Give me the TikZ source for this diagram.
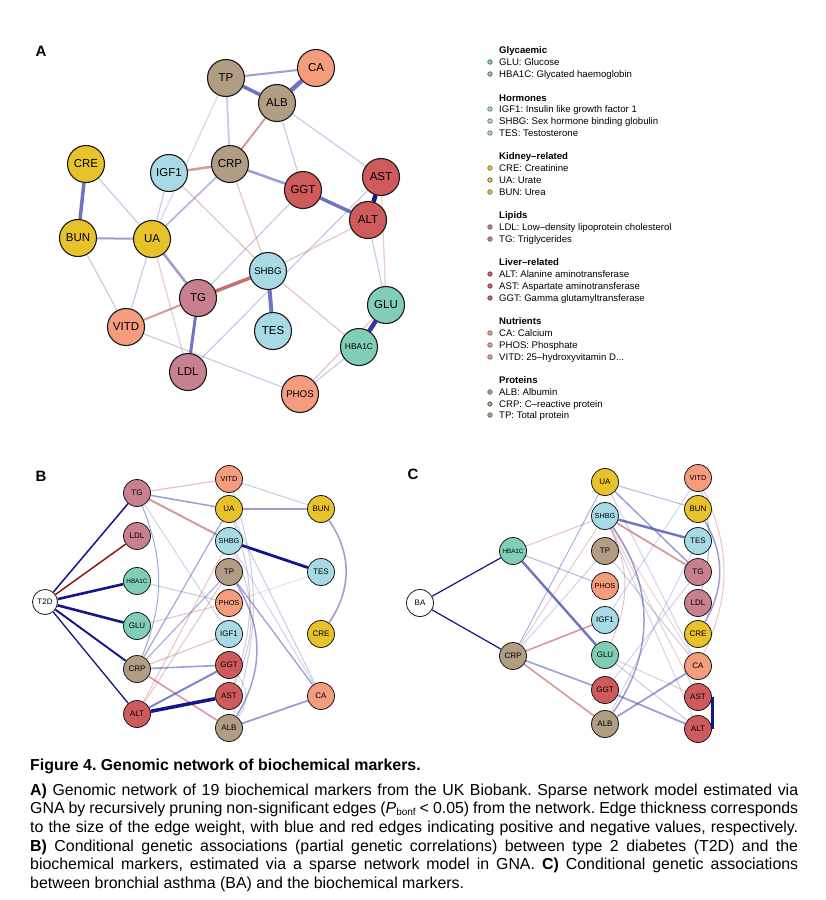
\documentclass[tikz,border=0pt]{standalone}
\usepackage{fontspec}
\setmainfont{Liberation Sans}
\frenchspacing
\definecolor{cKid}{RGB}{232,194,42}
\definecolor{cHor}{RGB}{168,218,230}
\definecolor{cPro}{RGB}{177,156,132}
\definecolor{cLiv}{RGB}{207,90,92}
\definecolor{cNut}{RGB}{245,155,126}
\definecolor{cLip}{RGB}{201,128,142}
\definecolor{cGly}{RGB}{128,205,184}
\definecolor{pos}{RGB}{75,80,180}
\definecolor{neg}{RGB}{190,85,90}
\definecolor{navy}{RGB}{20,20,140}
\definecolor{dred}{RGB}{150,20,20}
\pgfdeclarelayer{bg}
\pgfsetlayers{bg,main}
\tikzset{
  nA/.style={circle, draw=black!90, line width=1.1pt, minimum size=37pt, inner sep=0pt, font=\fontsize{11.5}{12}\selectfont},
  nB/.style={circle, draw=black!90, line width=0.8pt, minimum size=27pt, inner sep=0pt, font=\fontsize{8}{9}\selectfont},
  smA/.style={font=\fontsize{9.7}{10}\selectfont},
  tnA/.style={font=\fontsize{8.4}{9}\selectfont},
  smB/.style={font=\fontsize{7.3}{8}\selectfont},
  tnB/.style={font=\fontsize{6.3}{7}\selectfont},
  p1/.style={draw=pos, opacity=.3, line width=1.2pt},
  p2/.style={draw=pos, opacity=.55, line width=2pt},
  p3/.style={draw=pos, opacity=.8, line width=3.5pt},
  n1/.style={draw=neg, opacity=.35, line width=1.2pt},
  n2/.style={draw=neg, opacity=.6, line width=2pt},
  n3/.style={draw=neg, opacity=.85, line width=3.5pt},
  nv/.style={draw=navy, line width=#1},
  dr/.style={draw=dred, line width=#1},
  lgdot/.style={circle, draw=black!70, line width=0.5pt, minimum size=4.6pt, inner sep=0pt},
  lgtxt/.style={anchor=base west, inner sep=0pt, font=\fontsize{9.6}{11}\selectfont},
  lghead/.style={anchor=base west, inner sep=0pt, font=\fontsize{9.6}{11}\selectfont\bfseries},
  plab/.style={anchor=center, inner sep=0pt, font=\fontsize{15}{16}\selectfont\bfseries},
  capl/.style={anchor=base west, inner sep=0pt, font=\fontsize{15.9}{18.6}\selectfont}
}
\begin{document}
\begin{tikzpicture}[x=1pt,y=-1pt]
\useasboundingbox (0,0) rectangle (826,900);
\begin{pgfonlayer}{bg}
\fill[white] (0,0) rectangle (826,900);
\end{pgfonlayer}

% ---------------- Panel A ----------------
\node[plab] (labA) at (41,51) {A};
\node[nA, fill=cPro] (aTP) at (226,78) {TP};
\node[nA, fill=cNut] (aCA) at (316,68) {CA};
\node[nA, fill=cPro] (aALB) at (277,103) {ALB};
\node[nA, fill=cKid] (aCRE) at (86,164) {CRE};
\node[nA, fill=cHor] (aIGF1) at (169,173) {IGF1};
\node[nA, fill=cPro] (aCRP) at (230,164) {CRP};
\node[nA, fill=cLiv] (aGGT) at (303,190) {GGT};
\node[nA, fill=cLiv] (aAST) at (381,177) {AST};
\node[nA, fill=cLiv] (aALT) at (368,220) {ALT};
\node[nA, fill=cKid] (aBUN) at (78,238) {BUN};
\node[nA, fill=cKid] (aUA) at (152,239) {UA};
\node[nA, fill=cHor, smA] (aSHBG) at (268,271) {SHBG};
\node[nA, fill=cLip] (aTG) at (198,298) {TG};
\node[nA, fill=cNut] (aVITD) at (126,327) {VITD};
\node[nA, fill=cHor] (aTES) at (273,331) {TES};
\node[nA, fill=cGly] (aGLU) at (386,305) {GLU};
\node[nA, fill=cGly, tnA] (aHBA1C) at (359,347) {HBA1C};
\node[nA, fill=cLip] (aLDL) at (188,372) {LDL};
\node[nA, fill=cNut, smA] (aPHOS) at (300,394) {PHOS};

\begin{pgfonlayer}{bg}
\draw[p2] (aTP) -- (aCA);
\draw[p3] (aTP) -- (aALB);
\draw[p3, line width=4.5pt] (aALB) -- (aCA);
\draw[p1, line width=1.8pt] (aTP) -- (aCRP);
\draw[p1, opacity=.22] (aTP) -- (aUA);
\draw[n2] (aALB) -- (aCRP);
\draw[p1] (aALB) -- (aGGT);
\draw[p1] (aALB) -- (aAST);
\draw[n2, line width=2.5pt] (aIGF1) -- (aCRP);
\draw[p2, line width=2.5pt] (aCRP) -- (aGGT);
\draw[p1, opacity=.4, line width=1.8pt] (aCRP) -- (aUA);
\draw[n1] (aCRP) -- (aSHBG);
\draw[n1] (aIGF1) -- (aSHBG);
\draw[p1] (aIGF1) -- (aUA);
\draw[p3] (aCRE) -- (aBUN);
\draw[p1] (aCRE) -- (aUA);
\draw[p2] (aBUN) -- (aUA);
\draw[p1] (aBUN) -- (aVITD);
\draw[p1] (aUA) -- (aVITD);
\draw[p2, line width=2.6pt] (aUA) -- (aTG);
\draw[n1, opacity=.3] (aUA) -- (aLDL);
\draw[n2] (aTG) -- (aVITD);
\draw[p3, line width=3pt] (aTG) -- (aLDL);
\draw[n3] (aTG) -- (aSHBG);
\draw[p1] (aTG) -- (aGGT);
\draw[p1] (aLDL) -- (aAST);
\draw[p3, line width=4pt] (aSHBG) -- (aTES);
\draw[n1] (aSHBG) -- (aHBA1C);
\draw[n1] (aSHBG) -- (aALT);
\draw[nv=4.5pt] (aAST) -- (aALT);
\draw[p3] (aGGT) -- (aALT);
\draw[p1] (aALT) -- (aGLU);
\draw[n1, opacity=.3] (aAST) -- (aGLU);
\draw[draw=navy!80!pos, opacity=.9, line width=4.5pt] (aGLU) -- (aHBA1C);
\draw[n1] (aGLU) -- (aPHOS);
\draw[p1] (aHBA1C) -- (aPHOS);
\draw[p1] (aVITD) -- (aPHOS);
\end{pgfonlayer}

% ---------------- Legend ----------------
\node[lghead] (hG) at (499,53.5) {Glycaemic};
\node[lgdot, fill=cGly] (dGLU) at (490,62) {};
\node[lgtxt] (tGLU) at (499,65.5) {GLU: Glucose};
\node[lgdot, fill=cGly] (dHBA) at (490,74) {};
\node[lgtxt] (tHBA) at (499,77.5) {HBA1C: Glycated haemoglobin};

\node[lghead] (hH) at (499,101) {Hormones};
\node[lgdot, fill=cHor] (dIGF) at (490,109) {};
\node[lgtxt] (tIGF) at (499,112.5) {IGF1: Insulin like growth factor 1};
\node[lgdot, fill=cHor] (dSHBG) at (490,121) {};
\node[lgtxt] (tSHBG) at (499,124.5) {SHBG: Sex hormone binding globulin};
\node[lgdot, fill=cHor] (dTES) at (490,133) {};
\node[lgtxt] (tTES) at (499,136.5) {TES: Testosterone};

\node[lghead] (hK) at (499,159) {Kidney–related};
\node[lgdot, fill=cKid] (dCRE) at (490,168) {};
\node[lgtxt] (tCRE) at (499,171.5) {CRE: Creatinine};
\node[lgdot, fill=cKid] (dUA) at (490,180) {};
\node[lgtxt] (tUA) at (499,183.5) {UA: Urate};
\node[lgdot, fill=cKid] (dBUN) at (490,192) {};
\node[lgtxt] (tBUN) at (499,195.5) {BUN: Urea};

\node[lghead] (hL) at (499,218.5) {Lipids};
\node[lgdot, fill=cLip] (dLDL) at (490,227) {};
\node[lgtxt] (tLDL) at (499,230.5) {LDL: Low–density lipoprotein cholesterol};
\node[lgdot, fill=cLip] (dTG) at (490,239) {};
\node[lgtxt] (tTG) at (499,242.5) {TG: Triglycerides};

\node[lghead] (hLv) at (499,265.5) {Liver–related};
\node[lgdot, fill=cLiv] (dALT) at (490,274) {};
\node[lgtxt] (tALT) at (499,277.5) {ALT: Alanine aminotransferase};
\node[lgdot, fill=cLiv] (dAST) at (490,286) {};
\node[lgtxt] (tAST) at (499,289.5) {AST: Aspartate aminotransferase};
\node[lgdot, fill=cLiv] (dGGT) at (490,298) {};
\node[lgtxt] (tGGT) at (499,301.5) {GGT: Gamma glutamyltransferase};

\node[lghead] (hN) at (499,324.5) {Nutrients};
\node[lgdot, fill=cNut] (dCA) at (490,333) {};
\node[lgtxt] (tCA) at (499,336.5) {CA: Calcium};
\node[lgdot, fill=cNut] (dPHOS) at (490,345) {};
\node[lgtxt] (tPHOS) at (499,348.5) {PHOS: Phosphate};
\node[lgdot, fill=cNut] (dVITD) at (490,357) {};
\node[lgtxt] (tVITD) at (499,360.5) {VITD: 25–hydroxyvitamin D...};

\node[lghead] (hP) at (499,383.5) {Proteins};
\node[lgdot, fill=cPro] (dALB) at (490,392) {};
\node[lgtxt] (tALB) at (499,395.5) {ALB: Albumin};
\node[lgdot, fill=cPro] (dCRP) at (490,404) {};
\node[lgtxt] (tCRP) at (499,407.5) {CRP: C–reactive protein};
\node[lgdot, fill=cPro] (dTP) at (490,415) {};
\node[lgtxt] (tTP) at (499,418.5) {TP: Total protein};

% ---------------- Panel B ----------------
\node[plab] (labB) at (41,476) {B};
\node[nB, fill=white, minimum size=25pt] (bT2D) at (45,602) {T2D};
\node[nB, fill=cLip] (bTG) at (137,493) {TG};
\node[nB, fill=cLip] (bLDL) at (137,536) {LDL};
\node[nB, fill=cGly, tnB] (bHBA1C) at (137,581) {HBA1C};
\node[nB, fill=cGly] (bGLU) at (137,626) {GLU};
\node[nB, fill=cPro] (bCRP) at (137,669) {CRP};
\node[nB, fill=cLiv] (bALT) at (137,714) {ALT};
\node[nB, fill=cNut, smB] (bVITD) at (229,479) {VITD};
\node[nB, fill=cKid] (bUA) at (229,509) {UA};
\node[nB, fill=cHor, smB] (bSHBG) at (229,541) {SHBG};
\node[nB, fill=cPro] (bTP) at (229,572) {TP};
\node[nB, fill=cNut, smB] (bPHOS) at (229,603) {PHOS};
\node[nB, fill=cHor] (bIGF1) at (229,634) {IGF1};
\node[nB, fill=cLiv] (bGGT) at (229,665) {GGT};
\node[nB, fill=cLiv] (bAST) at (229,696) {AST};
\node[nB, fill=cPro] (bALB) at (229,728) {ALB};
\node[nB, fill=cKid] (bBUN) at (321,509) {BUN};
\node[nB, fill=cHor] (bTES) at (321,572) {TES};
\node[nB, fill=cKid] (bCRE) at (321,634) {CRE};
\node[nB, fill=cNut] (bCA) at (321,696) {CA};

\begin{pgfonlayer}{bg}
\draw[nv=1.5pt] (bT2D) -- (bTG);
\draw[dr=1.5pt] (bT2D) -- (bLDL);
\draw[nv=2.6pt] (bT2D) -- (bHBA1C);
\draw[nv=2.6pt] (bT2D) -- (bGLU);
\draw[nv=1.9pt] (bT2D) -- (bCRP);
\draw[nv=1.3pt] (bT2D) -- (bALT);
\draw[n1] (bTG) -- (bVITD);
\draw[p2, line width=1.5pt] (bTG) -- (bUA);
\draw[n2] (bTG) -- (bSHBG);
\draw[p1, opacity=.25, line width=1pt] (bTG) -- (bIGF1);
\draw[p1, opacity=.5, line width=1pt] (bTG) to[bend left=22] (bCRP);
\draw[p1, line width=1pt] (bHBA1C) -- (bPHOS);
\draw[n1, line width=1pt] (bGLU) -- (bPHOS);
\draw[n1, opacity=.2, line width=1pt] (bPHOS) -- (bTES);
\draw[p1, opacity=.5] (bCRP) -- (bUA);
\draw[p1, opacity=.45] (bCRP) -- (bTP);
\draw[n1] (bCRP) -- (bIGF1);
\draw[p2, line width=1.6pt] (bCRP) -- (bGGT);
\draw[n2, line width=1.6pt] (bCRP) -- (bALB);
\draw[n1, line width=1pt] (bALT) -- (bSHBG);
\draw[n1, line width=1pt] (bALT) -- (bTP);
\draw[p2, line width=2pt, opacity=.7] (bALT) -- (bGGT);
\draw[nv=3.5pt] (bALT) -- (bAST);
\draw[p1, line width=1pt] (bVITD) -- (bBUN);
\draw[p2, line width=1.6pt] (bUA) -- (bBUN);
\draw[nv=2.8pt] (bSHBG) -- (bTES);
\draw[p2, line width=1.6pt] (bBUN) to[bend left=35] (bCRE);
\draw[p2, line width=1.8pt] (bALB) -- (bCA);
\draw[p1, line width=1pt] (bUA) -- (bCA);
\draw[p1, line width=1pt, opacity=.25] (bSHBG) -- (bCA);
\draw[p2, line width=1.3pt] (bTP) -- (bCA);
\draw[p1, line width=1pt] (bVITD) to[bend left=18] (bALB);
\draw[p1, line width=1pt] (bUA) to[bend left=20] (bAST);
\draw[p2, line width=1.5pt] (bTP) to[bend left=32] (bALB);
\draw[n1, line width=1pt] (bSHBG) to[bend left=25] (bAST);
\draw[p1, line width=1pt, opacity=.25] (bGGT) to[bend left=40] (bALB);
\end{pgfonlayer}

% ---------------- Panel C ----------------
\node[plab] (labC) at (413,474) {C};
\node[nB, fill=white] (cBA) at (420,603) {BA};
\node[nB, fill=cGly, tnB] (cHBA1C) at (513,551) {HBA1C};
\node[nB, fill=cPro] (cCRP) at (513,656) {CRP};
\node[nB, fill=cKid] (cUA) at (605,482) {UA};
\node[nB, fill=cHor, smB] (cSHBG) at (605,516) {SHBG};
\node[nB, fill=cPro] (cTP) at (605,551) {TP};
\node[nB, fill=cNut, smB] (cPHOS) at (605,586) {PHOS};
\node[nB, fill=cHor] (cIGF1) at (605,620) {IGF1};
\node[nB, fill=cGly] (cGLU) at (605,655) {GLU};
\node[nB, fill=cLiv] (cGGT) at (605,690) {GGT};
\node[nB, fill=cPro] (cALB) at (605,724) {ALB};
\node[nB, fill=cNut, smB] (cVITD) at (698,478) {VITD};
\node[nB, fill=cKid] (cBUN) at (698,509) {BUN};
\node[nB, fill=cHor] (cTES) at (698,541) {TES};
\node[nB, fill=cLip] (cTG) at (698,572) {TG};
\node[nB, fill=cLip] (cLDL) at (698,603) {LDL};
\node[nB, fill=cKid] (cCRE) at (698,634) {CRE};
\node[nB, fill=cNut] (cCA) at (698,666) {CA};
\node[nB, fill=cLiv] (cAST) at (698,697) {AST};
\node[nB, fill=cLiv] (cALT) at (698,729) {ALT};

\begin{pgfonlayer}{bg}
\draw[nv=1.2pt] (cBA) -- (cHBA1C);
\draw[nv=1.2pt] (cBA) -- (cCRP);
\draw[n1, line width=1pt] (cHBA1C) -- (cSHBG);
\draw[p1, line width=1pt, opacity=.4] (cHBA1C) -- (cPHOS);
\draw[p3, line width=2.4pt] (cHBA1C) -- (cGLU);
\draw[p1, line width=1pt, opacity=.45] (cCRP) -- (cUA);
\draw[n1, line width=1pt, opacity=.3] (cCRP) -- (cSHBG);
\draw[p1, line width=1pt, opacity=.25] (cCRP) -- (cTP);
\draw[n2, line width=1.6pt] (cCRP) -- (cIGF1);
\draw[p2, line width=1.6pt] (cCRP) -- (cGGT);
\draw[n2, line width=1.6pt] (cCRP) -- (cALB);
\draw[p1, line width=1pt, opacity=.4] (cUA) -- (cBUN);
\draw[p2, line width=1.5pt] (cUA) -- (cTG);
\draw[p1, line width=1pt, opacity=.25] (cUA) -- (cCA);
\draw[p3, line width=2.4pt] (cSHBG) -- (cTES);
\draw[n2, line width=1.8pt] (cSHBG) -- (cTG);
\draw[n1, line width=1pt, opacity=.3] (cSHBG) -- (cAST);
\draw[p1, line width=1pt, opacity=.25] (cSHBG) -- (cALT);
\draw[n1, line width=1pt, opacity=.25] (cSHBG) -- (cCA);
\draw[p2, line width=1.5pt] (cSHBG) to[bend left=35] (cALB);
\draw[n1, line width=1pt] (cSHBG) to[bend left=25] (cGLU);
\draw[p1, line width=1pt] (cTP) -- (cCA);
\draw[p1, line width=1pt, opacity=.25] (cIGF1) -- (cVITD);
\draw[n1, line width=1pt, opacity=.3] (cGLU) -- (cAST);
\draw[p1, line width=1pt] (cGLU) -- (cALT);
\draw[p1, line width=1pt, opacity=.25] (cGGT) -- (cTG);
\draw[p2, line width=1.8pt] (cGGT) -- (cALT);
\draw[p2, line width=1.8pt] (cALB) -- (cCA);
\draw[p1, line width=1pt, opacity=.25] (cALB) -- (cTES);
\draw[p1, line width=1pt, opacity=.4] (cVITD) to[bend left=15] (cLDL);
\draw[n1, line width=1pt] (cVITD) to[bend left=25] (cCA);
\draw[p2, line width=1.5pt] (cBUN) to[bend left=30] (cCRE);
\draw[nv=3pt] ([xshift=1pt]cAST.east) -- ([xshift=1pt]cALT.east);
\end{pgfonlayer}

% ---------------- Caption ----------------
\node[capl, font=\fontsize{15.9}{18.6}\selectfont\bfseries] (cap0) at (30,770) {Figure 4. Genomic network of biochemical markers.};
\node[capl] (cap1) at (30,795) {\makebox[768pt][s]{\textbf{A)} Genomic network of 19 biochemical markers from the UK Biobank. Sparse network model estimated via}};
\node[capl] (cap2) at (30,813) {\makebox[768pt][s]{GNA by recursively pruning non-significant edges (\textit{P}{\fontsize{10}{10}\selectfont\raisebox{-2pt}{bonf}} < 0.05) from the network. Edge thickness corresponds}};
\node[capl] (cap3) at (30,832) {\makebox[768pt][s]{to the size of the edge weight, with blue and red edges indicating positive and negative values, respectively.}};
\node[capl] (cap4) at (30,851) {\makebox[768pt][s]{\textbf{B)} Conditional genetic associations (partial genetic correlations) between type 2 diabetes (T2D) and the}};
\node[capl] (cap5) at (30,869) {\makebox[768pt][s]{biochemical markers, estimated via a sparse network model in GNA. \textbf{C)} Conditional genetic associations}};
\node[capl] (cap6) at (30,888) {between bronchial asthma (BA) and the biochemical markers.};
\end{tikzpicture}
\end{document}
